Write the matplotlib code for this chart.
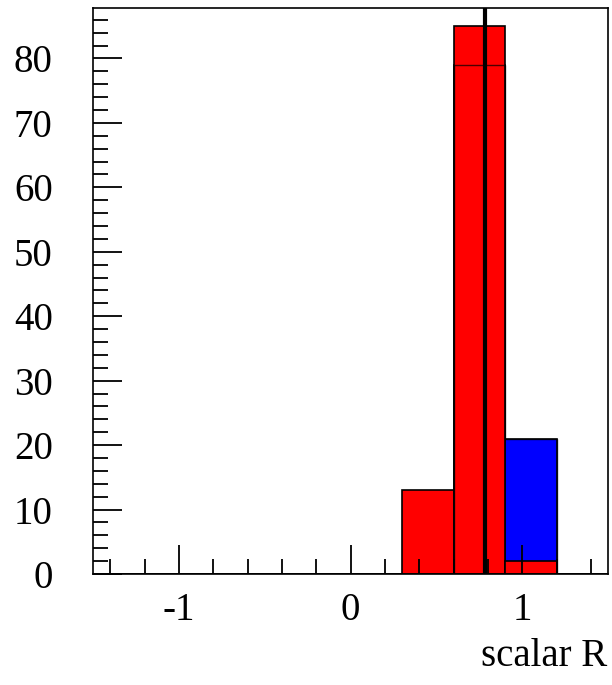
import numpy as np
import matplotlib
matplotlib.use('Agg')
import matplotlib.pyplot as plt
from matplotlib.ticker import MultipleLocator

# ========= histogram contents =========
BIN_EDGES = [-1.5, -1.2, -0.9, -0.6, -0.3, 0.0, 0.3, 0.6, 0.9, 1.2, 1.5]
RED_COUNTS = [0, 0, 0, 0, 0, 0, 13, 85, 2, 0]
BLUE_COUNTS = [0, 0, 0, 0, 0, 0, 0, 79, 21, 0]
CUT_VALUE = 0.784
X_TITLE = 'scalar R'
# ======================================

plt.rcParams['font.family'] = ['Liberation Serif', 'DejaVu Serif']

fig = plt.figure(figsize=(6.12, 6.85), dpi=100)
ax = fig.add_axes([0.152, 0.162, 0.8415, 0.826])

edges = np.array(BIN_EDGES)
widths = np.diff(edges)

ax.bar(edges[:-1], BLUE_COUNTS, width=widths, align='edge',
       color='#0000ff', edgecolor='black', linewidth=1.2, zorder=1)
ax.bar(edges[:-1], RED_COUNTS, width=widths, align='edge',
       color='#ff0000', edgecolor='black', linewidth=1.2, zorder=2)
# blue outline redrawn on top so it shows through the red
ax.stairs(BLUE_COUNTS, edges, color='black', linewidth=1.0, alpha=0.7, zorder=3)

ax.axvline(CUT_VALUE, color='black', linewidth=3, zorder=4)

ax.set_xlim(-1.5, 1.5)
ax.set_ylim(0, 87.8)

ax.xaxis.set_major_locator(MultipleLocator(1))
ax.xaxis.set_minor_locator(MultipleLocator(0.2))
ax.yaxis.set_major_locator(MultipleLocator(10))
ax.yaxis.set_minor_locator(MultipleLocator(2))

ax.tick_params(axis='both', which='both', direction='in', top=False, right=False,
               width=1.3, color='black', labelsize=28)
ax.tick_params(axis='both', which='major', length=21)
ax.tick_params(axis='both', which='minor', length=10.5)
ax.tick_params(axis='x', which='major', pad=13)
ax.tick_params(axis='y', which='major', pad=29)
for t in ax.xaxis.get_major_ticks() + ax.xaxis.get_minor_ticks():
    t.tick1line.set_zorder(5)
ax.set_axisbelow(False)

ax.xaxis.set_major_formatter(plt.FuncFormatter(lambda v, p: f'{v:g}'))

for s in ax.spines.values():
    s.set_linewidth(1.2)
    s.set_zorder(6)

fig.text(0.993, 0.028, X_TITLE, ha='right', va='baseline', fontsize=28)

fig.savefig('out.png', dpi=100)
